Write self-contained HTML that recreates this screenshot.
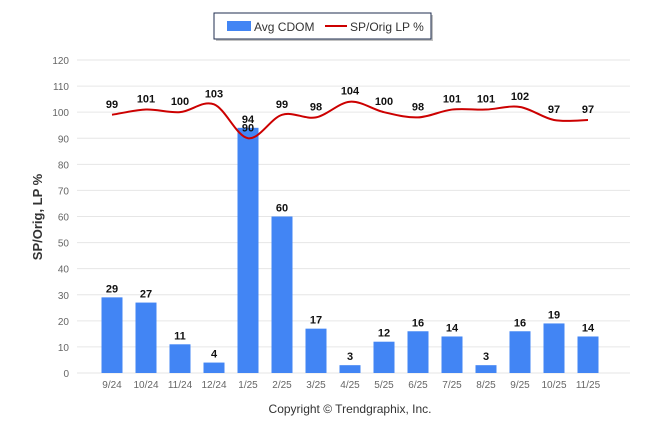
<!DOCTYPE html>
<html><head><meta charset="utf-8"><style>
body{margin:0;background:#fff;font-family:"Liberation Sans",Arial,sans-serif}
svg text{font-family:"Liberation Sans",Arial,sans-serif}
</style></head><body>
<svg id="c" width="646" height="434" xmlns="http://www.w3.org/2000/svg">
<g>
<rect x="216" y="15" width="217" height="26" fill="#666" opacity="0.4"/>
<rect x="214" y="13" width="217" height="26" fill="#fff" stroke="#1f2d4f" stroke-width="1"/>
<rect x="227" y="21" width="24" height="10" fill="#4285f4"/>
<text x="254" y="31" font-size="12" fill="#333">Avg CDOM</text>
<line x1="325" y1="26" x2="347" y2="26" stroke="#cc0000" stroke-width="2"/>
<text x="350" y="31" font-size="12" fill="#333">SP/Orig LP %</text>
</g>
<text transform="translate(42,217) rotate(-90)" text-anchor="middle" font-size="13" font-weight="bold" fill="#333">SP/Orig, LP %</text>
<text x="350" y="413" text-anchor="middle" font-size="12" fill="#333">Copyright © Trendgraphix, Inc.</text>
<g id="grid"></g><g id="bars"></g><g id="line"></g><g id="labels"></g>
</svg>
<script>
const categories=["9/24","10/24","11/24","12/24","1/25","2/25","3/25","4/25","5/25","6/25","7/25","8/25","9/25","10/25","11/25"];
const cdom=[29,27,11,4,94,60,17,3,12,16,14,3,16,19,14];
const lp=[99,101,100,103,90,99,98,104,100,98,101,101,102,97,97];
const yTicks=[0,10,20,30,40,50,60,70,80,90,100,110,120];
const NS="http://www.w3.org/2000/svg";
const y0=373,y120=60;
const step=34;
const xs=i=>112+step*i;
const ys=v=>y0-(v/120)*(y0-y120);
function mk(t,a,p){const e=document.createElementNS(NS,t);for(const k in a)e.setAttribute(k,a[k]);document.getElementById(p).appendChild(e);return e;}
yTicks.forEach(v=>{
 const l=mk('line',{x1:77,x2:630,y1:ys(v),y2:ys(v),stroke:'#e6e6e6','stroke-width':1},'grid');
 
 
 const t=mk('text',{x:69,y:ys(v)+4,'text-anchor':'end','font-size':10,fill:'#666'},'grid');
 t.textContent=v;
 
 
});
categories.forEach((c,i)=>{
 const t=mk('text',{x:xs(i),y:388,'text-anchor':'middle','font-size':10,fill:'#666'},'grid');
 t.textContent=c;
 
 
 const b=mk('rect',{x:xs(i)-10.5,y:ys(cdom[i]),width:21,height:y0-ys(cdom[i]),fill:'#4285f4'},'bars');
 
 
 const bl=mk('text',{x:xs(i),y:ys(cdom[i])-5,'text-anchor':'middle','font-size':11,'font-weight':'bold',fill:'#111'},'labels');
 bl.textContent=cdom[i];
 
 
 const ll=mk('text',{x:xs(i),y:ys(lp[i])-7,'text-anchor':'middle','font-size':11,'font-weight':'bold',fill:'#111'},'labels');
 ll.textContent=lp[i];
 
 
});
const pts=lp.map((v,i)=>[xs(i),ys(v)]);
let d='M'+pts[0][0]+','+pts[0][1];
for(let i=0;i<pts.length-1;i++){
 const p0=pts[Math.max(0,i-1)],p1=pts[i],p2=pts[i+1],p3=pts[Math.min(pts.length-1,i+2)];
 const c1=[p1[0]+(p2[0]-p0[0])/6,p1[1]+(p2[1]-p0[1])/6],c2=[p2[0]-(p3[0]-p1[0])/6,p2[1]-(p3[1]-p1[1])/6];
 d+=' C'+c1+' '+c2+' '+p2;
}
const path=mk('path',{d:d,fill:'none',stroke:'#cc0000','stroke-width':2},'line');


</script>
</body></html>
